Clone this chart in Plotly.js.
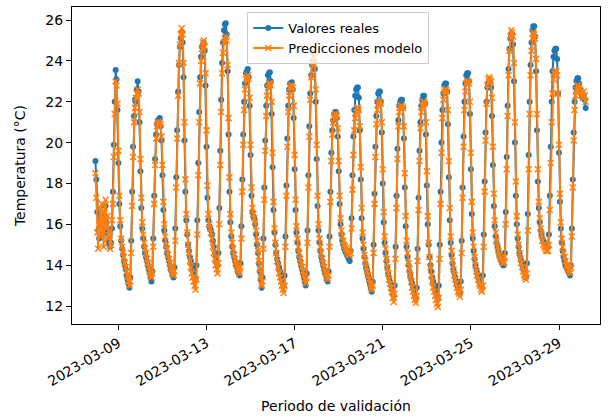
<!DOCTYPE html>
<html><head><meta charset="utf-8">
<script src="https://cdn.plot.ly/plotly-3.0.1.min.js"></script>
<style>html,body{margin:0;padding:0;background:#fff}#chart{width:609px;height:416px}</style>
</head><body><div id="chart"></div>
<script>
// Hourly series, first timestamp
const startTime = Date.UTC(2023, 2, 7, 23, 0, 0);

const valoresReales = [
19.1,18.2,16.6,15.7,15.3,15.9,16.5,16.0,15.4,15.7,16.3,16.9,16.1,15.6,15.2,15.0,14.9,15.1,15.8,17.6,19.9,22.0,
23.55,23.1,21.6,19.0,17.0,15.9,15.2,14.8,14.5,14.2,14.0,13.8,13.5,13.3,13.1,12.9,13.4,15.2,17.6,19.8,21.3,22.1,22.0,22.6,
23.0,22.5,21.0,18.6,16.8,15.8,15.3,14.9,14.6,14.4,14.2,14.0,13.8,13.6,13.4,13.2,13.7,15.3,17.4,19.2,20.4,20.9,21.1,21.0,
21.2,20.8,20.1,18.4,16.7,15.7,15.2,14.9,14.6,14.4,14.2,14.0,13.8,13.7,13.5,13.4,13.9,15.8,18.3,20.6,22.5,23.8,24.7,25.1,
25.4,24.9,23.2,20.1,17.6,16.2,15.5,15.0,14.7,14.4,14.2,14.0,13.8,13.6,13.4,13.3,14.0,16.2,19.0,21.5,23.2,24.2,24.7,24.8,
24.9,24.5,22.8,19.8,17.3,16.2,15.9,15.8,15.7,15.5,15.2,14.9,14.6,14.4,14.2,14.0,14.6,16.8,19.6,22.1,23.9,24.9,25.5,25.8,
25.85,25.3,23.5,20.4,17.6,16.1,15.4,14.9,14.6,14.4,14.2,14.0,13.9,13.7,13.6,13.5,14.1,15.9,18.2,20.4,22.0,22.9,23.4,23.5,
23.6,23.2,21.8,19.4,17.4,16.6,16.4,16.3,16.0,15.5,15.0,14.6,14.1,13.7,13.3,12.9,13.4,15.3,17.8,20.1,21.8,22.8,23.3,23.4,
23.45,23.0,21.4,18.8,16.7,15.6,15.0,14.6,14.3,14.1,13.9,13.7,13.5,13.3,13.2,13.0,13.5,15.4,17.9,20.2,21.8,22.6,22.9,22.9,
22.95,22.6,21.2,18.7,16.7,15.6,15.1,14.7,14.4,14.2,14.0,13.8,13.6,13.4,13.2,13.0,13.6,15.7,18.4,20.8,22.4,23.3,23.8,24.0,
24.0,23.6,22.0,19.2,16.9,15.7,15.1,14.7,14.4,14.2,14.0,13.8,13.6,13.5,13.3,13.2,13.7,15.4,17.6,19.5,20.6,21.1,21.4,21.5,
21.5,21.2,20.3,18.6,17.0,16.0,15.5,15.2,15.0,14.8,14.7,14.6,14.5,14.4,14.3,14.2,14.7,16.3,18.4,20.3,21.6,22.3,22.6,22.7,
22.7,22.2,20.6,18.2,16.3,15.3,14.8,14.4,14.1,13.9,13.7,13.5,13.3,13.1,12.9,12.7,13.2,15.0,17.5,19.8,21.3,22.0,22.4,22.5,
22.5,22.0,20.5,18.0,16.1,15.1,14.6,14.2,13.9,13.6,13.4,13.2,13.0,12.8,12.6,12.5,13.0,14.9,17.4,19.7,21.1,21.8,22.0,22.1,
22.1,21.7,20.2,17.8,15.9,14.9,14.4,14.0,13.7,13.5,13.3,13.1,12.9,12.7,12.5,12.4,12.9,14.8,17.3,19.6,21.0,21.8,22.1,22.3,
22.3,21.9,20.4,17.9,16.0,15.0,14.4,14.0,13.7,13.4,13.2,13.0,12.8,12.6,12.5,12.4,13.0,15.0,17.6,20.0,21.6,22.4,22.8,22.9,
22.9,22.5,20.9,18.3,16.2,15.1,14.5,14.1,13.8,13.6,13.4,13.2,13.0,12.9,12.7,12.6,13.2,15.2,17.8,20.3,22.0,22.9,23.3,23.4,
23.4,23.0,21.4,18.7,16.5,15.3,14.7,14.3,14.0,13.8,13.6,13.4,13.2,13.1,13.0,12.9,13.5,15.5,18.1,20.5,22.0,22.7,22.9,23.0,
23.0,22.7,21.3,18.9,16.9,15.9,15.4,15.1,14.9,14.7,14.5,14.4,14.2,14.1,14.0,14.0,14.6,16.6,19.3,21.8,23.6,24.6,25.1,25.3,
25.3,24.8,23.0,20.0,17.4,16.0,15.3,14.9,14.6,14.4,14.2,14.0,13.8,13.7,13.5,13.4,14.1,16.5,19.4,22.0,23.8,24.9,25.5,25.7,
25.7,25.2,23.5,20.6,18.1,16.8,16.1,15.7,15.5,15.3,15.2,15.1,15.0,14.9,14.9,14.9,15.5,17.4,19.8,22.0,23.5,24.2,24.5,24.6,
24.6,24.1,22.4,19.5,17.1,15.8,15.1,14.7,14.4,14.2,14.0,13.9,13.8,13.7,13.6,13.5,14.0,15.8,18.2,20.5,22.0,22.7,23.0,23.15,
23.15,22.9,22.6,22.4,22.3,22.2,22.3,22.1,21.7
];

const predicciones = [
18.5,17.3,15.6,14.8,16.0,16.8,15.4,17.0,15.7,14.9,16.6,17.2,15.8,16.4,15.3,15.7,14.8,15.0,16.2,17.0,19.3,21.4,
23.0,22.8,21.9,19.6,17.4,16.2,15.3,14.9,14.6,14.4,14.1,13.9,13.7,13.5,13.2,13.0,13.2,14.6,16.9,19.3,21.0,21.7,22.2,22.4,
22.6,22.4,21.5,19.2,17.3,16.1,15.5,15.1,14.8,14.6,14.3,14.1,13.9,13.7,13.5,13.4,13.6,14.9,17.0,18.9,20.2,20.8,21.0,20.9,
21.0,20.9,20.3,18.9,17.1,16.0,15.4,15.0,14.8,14.5,14.3,14.1,13.9,13.8,13.6,13.5,13.7,15.2,17.8,20.2,22.3,23.9,24.8,25.3,
25.6,25.3,23.9,21.0,18.2,16.5,15.6,15.0,14.6,14.2,13.9,13.6,13.4,13.2,13.0,12.8,13.3,15.5,18.4,21.0,22.9,24.0,24.6,24.9,
25.0,24.7,23.4,20.6,17.9,16.5,16.0,15.8,15.6,15.3,14.9,14.6,14.3,14.0,13.8,13.6,14.1,16.0,18.9,21.5,23.4,24.4,24.9,25.1,
25.2,25.0,23.8,21.2,18.3,16.5,15.6,15.1,14.8,14.5,14.3,14.1,14.0,13.8,13.7,13.6,13.9,15.3,17.6,19.9,21.6,22.6,23.1,23.2,
23.3,23.1,22.2,19.9,17.8,16.8,16.5,16.3,16.1,15.7,15.2,14.7,14.2,13.8,13.4,13.0,13.2,14.8,17.2,19.6,21.3,22.3,22.7,22.9,
22.9,22.8,22.0,19.5,17.1,15.8,15.1,14.6,14.2,13.9,13.6,13.4,13.2,13.0,12.8,12.65,13.0,14.9,17.4,19.8,21.5,22.3,22.7,22.8,
22.8,22.7,21.8,19.4,17.2,15.9,15.3,14.9,14.6,14.3,14.1,13.9,13.7,13.5,13.3,13.1,13.4,15.1,17.8,20.3,22.1,23.2,23.9,24.5,
24.2,23.8,22.6,19.9,17.4,16.0,15.3,14.9,14.6,14.3,14.1,13.9,13.7,13.6,13.4,13.3,13.5,14.9,17.1,19.1,20.4,21.0,21.3,21.4,
21.4,21.3,20.7,19.1,17.4,16.3,15.7,15.4,15.2,15.0,14.9,14.8,14.7,14.6,14.5,14.5,14.6,15.8,17.7,19.4,20.6,21.2,21.5,21.7,
21.7,21.6,20.8,18.8,16.8,15.6,15.0,14.5,14.2,13.9,13.7,13.5,13.3,13.1,12.9,12.8,13.0,14.6,17.0,19.3,20.9,21.6,21.9,22.0,
22.0,21.9,21.0,18.7,16.6,15.4,14.8,14.3,13.9,13.6,13.3,13.1,12.9,12.7,12.4,12.2,12.6,14.3,16.8,19.2,20.8,21.5,21.7,21.8,
21.8,21.7,20.8,18.5,16.4,15.2,14.6,14.1,13.8,13.5,13.2,12.9,12.7,12.5,12.3,12.15,12.5,14.2,16.7,19.1,20.7,21.5,21.8,22.0,
22.0,21.9,21.0,18.6,16.4,15.1,14.4,13.9,13.5,13.2,12.9,12.7,12.5,12.3,12.1,11.95,12.4,14.3,17.0,19.5,21.2,22.1,22.5,22.6,
22.6,22.5,21.6,19.1,16.8,15.4,14.7,14.2,13.8,13.5,13.3,13.1,12.9,12.7,12.6,12.45,12.8,14.6,17.3,19.8,21.6,22.5,22.9,23.0,
23.0,22.9,22.0,19.5,17.1,15.6,14.9,14.4,14.0,13.7,13.5,13.3,13.1,13.0,12.8,12.7,13.0,14.9,17.6,20.1,21.9,22.8,23.1,23.2,
23.1,23.0,22.2,19.8,17.5,16.2,15.6,15.2,14.9,14.7,14.5,14.4,14.3,14.2,14.1,14.1,14.4,16.0,18.7,21.3,23.3,24.5,25.2,25.5,
25.4,25.2,23.9,21.0,18.1,16.4,15.5,15.0,14.6,14.3,14.1,13.9,13.7,13.5,13.4,13.3,13.6,15.7,18.7,21.4,23.3,24.5,25.1,25.4,
25.3,25.1,24.1,21.4,18.7,17.1,16.3,15.8,15.5,15.2,15.0,14.9,14.8,14.7,14.7,14.7,15.0,16.7,19.0,21.0,22.4,23.1,23.4,23.5,
23.5,23.3,22.4,19.9,17.5,16.1,15.3,14.9,14.6,14.4,14.2,14.0,13.9,13.8,13.7,13.6,13.9,15.4,17.8,20.1,21.6,22.3,22.6,22.8,
22.8,22.7,22.6,22.5,22.3,22.2,22.5,22.3,22.0
];

const seriesNames = ['Valores reales', 'Predicciones modelo'];
const seriesColors = ['#1f77b4', '#ff7f0e'];
const xTickVals = ['2023-03-09', '2023-03-13', '2023-03-17', '2023-03-21', '2023-03-25', '2023-03-29'];
const xTickText = ['2023-03-09', '2023-03-13', '2023-03-17', '2023-03-21', '2023-03-25', '2023-03-29'];
const yTickVals = [12, 14, 16, 18, 20, 22, 24, 26];
const xLabel = 'Periodo de validación';
const yLabel = 'Temperatura (°C)';

function hourlyTimes(n) {
  const out = [];
  for (let i = 0; i < n; i++) {
    out.push(new Date(startTime + i * 3600000).toISOString().slice(0, 19).replace('T', ' '));
  }
  return out;
}

const font = {family: 'DejaVu Sans, sans-serif', size: 14, color: '#000'};

const traces = [
  {
    x: hourlyTimes(valoresReales.length), y: valoresReales, name: seriesNames[0],
    type: 'scatter', mode: 'lines+markers',
    line: {color: seriesColors[0], width: 2},
    marker: {color: seriesColors[0], size: 6, symbol: 'circle'}
  },
  {
    x: hourlyTimes(predicciones.length), y: predicciones, name: seriesNames[1],
    type: 'scatter', mode: 'lines+markers',
    line: {color: seriesColors[1], width: 2},
    marker: {color: seriesColors[1], size: 6, symbol: 'x-thin', line: {color: seriesColors[1], width: 1.5}}
  }
];

const layout = {
  width: 609, height: 416,
  margin: {l: 72, r: 9, t: 7, b: 92},
  paper_bgcolor: '#fff', plot_bgcolor: '#fff',
  font: font,
  showlegend: true,
  legend: {
    x: 0.332, y: 0.984, xanchor: 'left', yanchor: 'top',
    bgcolor: 'rgba(255,255,255,0.8)', bordercolor: '#cccccc', borderwidth: 1,
    font: {family: 'DejaVu Sans, sans-serif', size: 13, color: '#000'},
    tracegroupgap: 0
  },
  xaxis: {
    type: 'date',
    range: ['2023-03-06 21:27', '2023-03-30 20:40'],
    tickvals: xTickVals, ticktext: xTickText, tickangle: -30,
    ticks: 'outside', ticklen: 5, tickcolor: '#000', tickwidth: 1,
    showline: true, linecolor: '#000', linewidth: 1, mirror: true,
    showgrid: false, zeroline: false,
    tickfont: font,
    title: {text: xLabel, font: font, standoff: 13}
  },
  yaxis: {
    range: [11.12, 26.64],
    tickvals: yTickVals,
    ticks: 'outside', ticklen: 5, tickcolor: '#000', tickwidth: 1,
    showline: true, linecolor: '#000', linewidth: 1, mirror: true,
    showgrid: false, zeroline: false,
    tickfont: font,
    title: {text: yLabel, font: font, standoff: 16}
  }
};

Plotly.newPlot('chart', traces, layout, {displayModeBar: false, staticPlot: true});
</script>
</body></html>
